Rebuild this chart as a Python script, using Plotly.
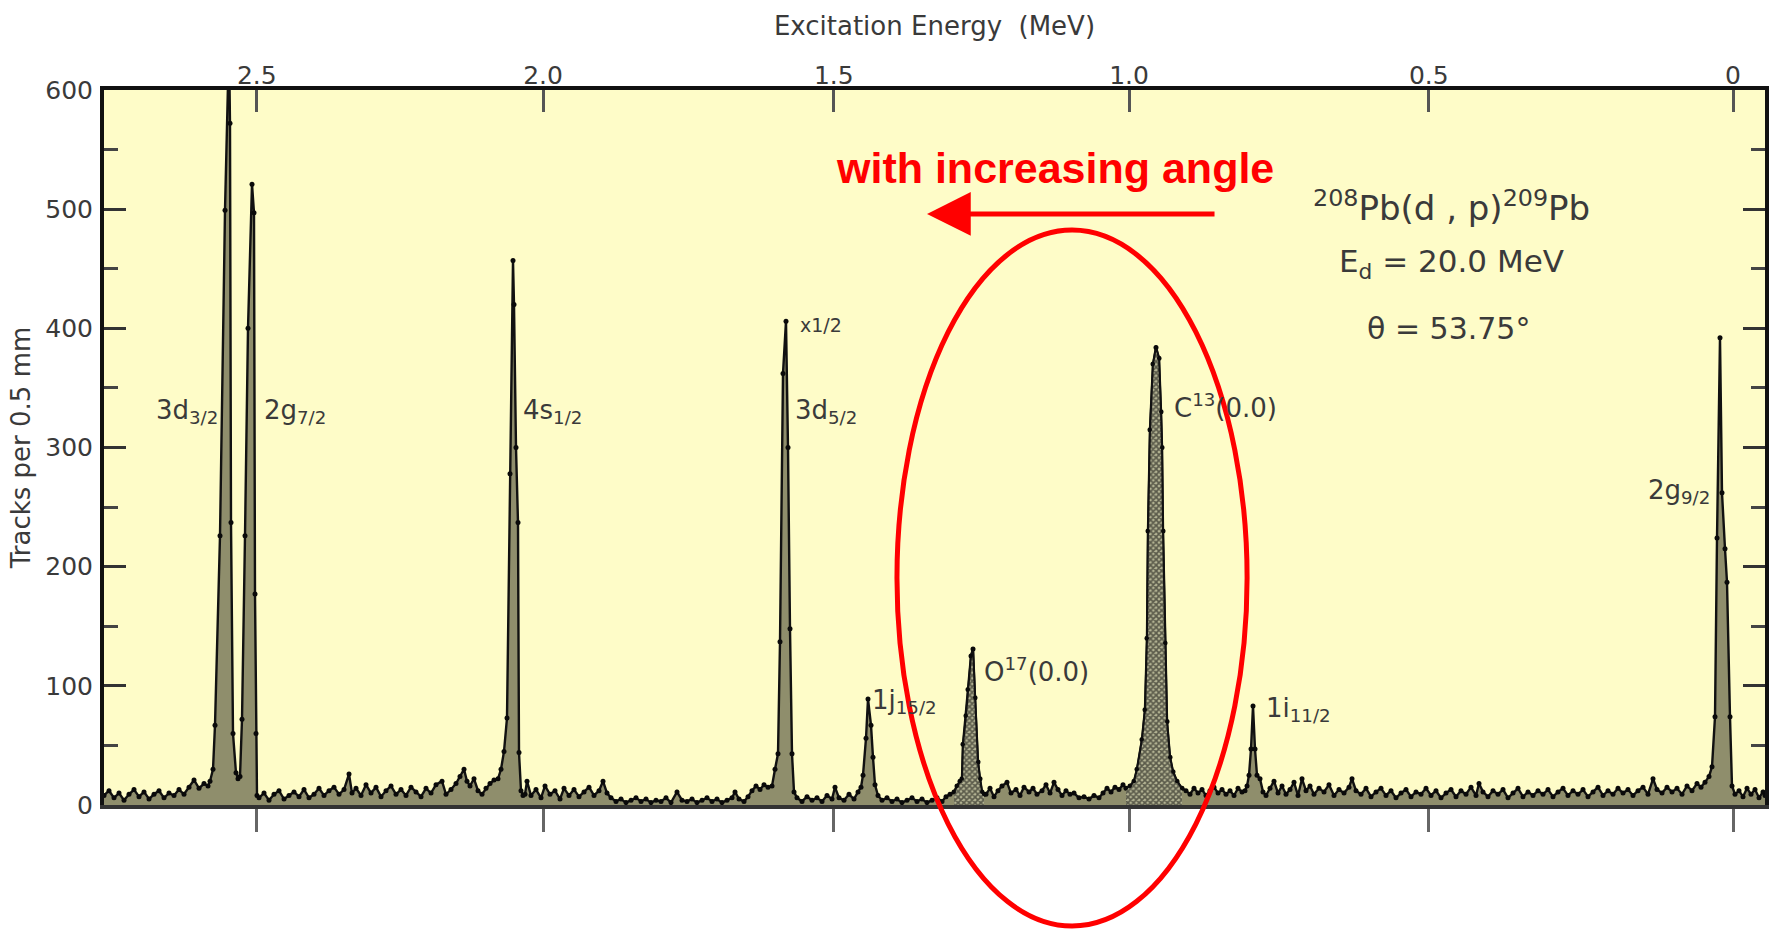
import plotly.graph_objects as go

# ---------------- data (channel along the plate, tracks per 0.5 mm) ----------------
base_1 = [(0, 8), (5, 12), (10, 6), (15, 10), (20, 4), (25, 9), (30, 13), (35, 7), (40, 11), (45, 5),
          (50, 9), (55, 12), (60, 6), (65, 10), (70, 8), (75, 13), (80, 9), (85, 15), (90, 21), (95, 14),
          (100, 18), (104, 16)]
peaks_3d32_2g72 = [(106, 20), (109, 30), (111, 67), (116, 226), (121, 499), (125, 640), (126, 572),
                   (127, 237), (129, 60), (132, 27), (134, 22), (136, 24), (138, 72), (141, 226),
                   (144, 400), (148, 521), (150, 497), (151, 177), (152, 60), (153, 8)]
base_2 = [(155, 6), (160, 10), (165, 4), (170, 9), (175, 12), (180, 5), (185, 8), (190, 11), (195, 7),
          (200, 13), (205, 6), (210, 9), (215, 14), (220, 8), (225, 12), (230, 15), (235, 9), (240, 13),
          (245, 26), (248, 10), (252, 14), (257, 8), (262, 17), (267, 10), (272, 15), (277, 7), (282, 12),
          (287, 16), (292, 9), (297, 13), (302, 8), (307, 15), (312, 11), (317, 7), (322, 14), (327, 10),
          (332, 17), (338, 20), (342, 9), (347, 13), (352, 18), (356, 24), (360, 30), (363, 20), (366, 16),
          (370, 22), (374, 12), (378, 9), (382, 14), (386, 18), (390, 21)]
peak_4s12 = [(394, 22), (397, 30), (400, 45), (403, 73), (406, 278), (409, 457), (410, 420), (412, 300),
             (414, 237), (415, 44), (417, 12), (419, 8)]
base_3 = [(421, 9), (423, 20), (427, 8), (432, 13), (437, 6), (441, 16), (446, 9), (451, 12), (456, 5),
          (460, 14), (465, 8), (470, 13), (475, 7), (480, 11), (485, 15), (490, 8), (495, 12), (499, 20),
          (503, 10), (507, 6), (512, 3), (517, 5), (522, 2), (527, 4), (532, 6), (537, 3), (542, 5),
          (547, 2), (552, 4), (557, 3), (562, 6), (567, 2), (573, 11), (578, 4), (583, 3), (588, 5),
          (593, 2), (598, 4), (603, 6), (608, 3), (613, 5), (618, 2), (623, 4), (628, 6), (631, 11),
          (635, 5), (640, 3), (644, 7), (648, 12), (652, 16), (656, 13), (660, 17), (664, 15)]
peak_3d52 = [(668, 16), (671, 30), (674, 43), (676, 137), (679, 362), (682, 406), (684, 300), (686, 148),
             (688, 43), (690, 11)]
base_4 = [(693, 6), (698, 3), (703, 7), (708, 4), (713, 6), (718, 3), (723, 8), (728, 5), (731, 15),
          (735, 6), (740, 4), (745, 9), (750, 5), (754, 11)]
peak_1j152 = [(757, 15), (759, 25), (762, 56), (764, 89), (767, 67), (769, 40), (771, 17), (774, 8)]
base_5 = [(778, 4), (783, 6), (788, 3), (793, 5), (798, 2), (803, 4), (808, 6), (813, 3), (818, 5),
          (823, 2), (828, 4), (833, 6), (838, 3), (842, 7), (846, 9)]
peak_o17 = [(850, 11), (853, 16), (856, 20), (858, 22), (859, 51), (862, 75), (864, 97), (867, 125),
            (869, 131), (871, 90), (874, 36), (876, 22), (878, 11), (880, 9)]
base_6 = [(882, 9), (886, 14), (890, 7), (894, 12), (898, 16), (903, 19), (907, 10), (912, 13), (916, 8),
          (920, 15), (925, 11), (929, 14), (933, 9), (938, 12), (942, 17), (946, 10), (950, 19), (954, 13),
          (958, 8), (962, 12), (966, 9), (970, 10), (975, 6), (980, 7), (985, 5), (990, 8), (995, 6),
          (999, 10), (1003, 14), (1007, 11), (1011, 15), (1015, 13), (1019, 17)]
peak_c13 = [(1022, 14), (1026, 16), (1030, 20), (1033, 30), (1038, 55), (1041, 80), (1043, 140),
            (1044, 230), (1046, 315), (1049, 370), (1052, 384), (1055, 375), (1057, 330), (1058, 300),
            (1059, 230), (1061, 136), (1063, 70), (1066, 40), (1069, 28), (1073, 20), (1078, 14)]
base_7 = [(1082, 12), (1086, 9), (1090, 14), (1094, 10), (1098, 13), (1102, 8), (1106, 12), (1110, 15),
          (1114, 10), (1118, 13), (1122, 9), (1126, 12), (1130, 8), (1134, 14), (1138, 11)]
peak_1i112 = [(1141, 12), (1143, 16), (1145, 25), (1147, 47), (1149, 83), (1151, 47), (1153, 25),
              (1156, 22), (1159, 11)]
base_8 = [(1162, 8), (1166, 14), (1170, 20), (1174, 10), (1178, 16), (1182, 9), (1186, 13), (1190, 19),
          (1194, 8), (1198, 22), (1202, 12), (1206, 16), (1210, 9), (1215, 14), (1220, 11), (1225, 17),
          (1230, 8), (1235, 13), (1240, 10), (1245, 15), (1248, 22), (1252, 12), (1257, 9), (1262, 14),
          (1267, 7), (1272, 11), (1277, 14), (1282, 8), (1287, 12), (1292, 6), (1297, 10), (1302, 13),
          (1307, 7), (1312, 11), (1317, 9), (1322, 14), (1327, 8), (1332, 12), (1337, 6), (1342, 10),
          (1347, 13), (1352, 7), (1357, 12), (1362, 9), (1367, 15), (1372, 8), (1375, 18), (1379, 11),
          (1384, 7), (1389, 12), (1394, 9), (1399, 13), (1404, 6), (1409, 10), (1414, 14), (1419, 7),
          (1424, 11), (1429, 8), (1434, 12), (1439, 9), (1444, 13), (1449, 7), (1454, 11), (1459, 14),
          (1464, 8), (1469, 12), (1474, 9), (1479, 13), (1484, 7), (1489, 11), (1494, 15), (1499, 8),
          (1504, 12), (1509, 9), (1514, 14), (1519, 10), (1524, 13), (1529, 8), (1534, 12), (1539, 15),
          (1544, 9), (1549, 22), (1553, 13), (1558, 10), (1563, 15), (1568, 11), (1573, 14), (1578, 9),
          (1583, 16), (1588, 12), (1593, 18), (1597, 15)]
peak_2g92 = [(1601, 19), (1605, 24), (1608, 32), (1611, 74), (1613, 224), (1616, 392), (1618, 262),
             (1621, 215), (1623, 187), (1626, 74), (1628, 16), (1631, 9)]
base_9 = [(1635, 12), (1639, 7), (1643, 14), (1647, 9), (1651, 13), (1655, 6), (1659, 11), (1661, 8)]

tick_energies = [2.5, 2.0, 1.5, 1.0, 0.5, 0.0]
tick_labels = ["2.5", "2.0", "1.5", "1.0", "0.5", "0"]
y_ticks = [0, 100, 200, 300, 400, 500, 600]

# peak labels: (text, channel, counts, anchor)
peak_labels = [
    ("3d<sub>3/2</sub>", 116, 330, "right"),
    ("2g<sub>7/2</sub>", 158, 330, "left"),
    ("4s<sub>1/2</sub>", 417, 330, "left"),
    ("3d<sub>5/2</sub>", 689, 330, "left"),
    ("1j<sub>15/2</sub>", 766, 87, "left"),
    ("O<sup>17</sup>(0.0)", 878, 113, "left"),
    ("C<sup>13</sup>(0.0)", 1068, 335, "left"),
    ("1i<sub>11/2</sub>", 1160, 80, "left"),
    ("2g<sub>9/2</sub>", 1608, 263, "right"),
]


def channel_of_energy(e):
    # plate-position calibration of the spectrograph (slightly non-linear)
    return 1629 - 613 * e + 9 * e ** 2


segments = [base_1, peaks_3d32_2g72, base_2, peak_4s12, base_3, peak_3d52, base_4, peak_1j152,
            base_5, peak_o17, base_6, peak_c13, base_7, peak_1i112, base_8, peak_2g92, base_9]
pairs = [p for s in segments for p in s]
ch = [p[0] for p in pairs]
cnt = [p[1] for p in pairs]

TXT = "#3a3a3a"
FONT = "DejaVu Sans"

fig = go.Figure()
fig.add_trace(go.Scatter(
    x=ch, y=cnt, mode="lines+markers",
    line=dict(color="#111111", width=2.4),
    marker=dict(size=5, color="#0a0a0a"),
    fill="tozeroy", fillcolor="rgba(90,90,65,0.68)",
    hoverinfo="skip"))

# contaminant peaks (hatched) drawn on the overlaying bottom axis (same range)
for seg in (peak_o17, peak_c13):
    fig.add_trace(go.Scatter(
        x=[p[0] for p in seg], y=[p[1] for p in seg], mode="lines+markers",
        xaxis="x2", yaxis="y",
        line=dict(color="#111111", width=2.0),
        marker=dict(size=4, color="#0a0a0a"),
        fill="tozeroy", fillcolor="rgba(0,0,0,0)",
        fillpattern=dict(shape="x", fgcolor="#000000", bgcolor="#b4b494", size=4, solidity=0.65),
        hoverinfo="skip"))

tickvals = [channel_of_energy(e) for e in tick_energies]

annotations = []
for text, c, n, anchor in peak_labels:
    annotations.append(dict(x=c, y=n, xref="x", yref="y", text=text, showarrow=False,
                            xanchor=anchor, yanchor="middle",
                            font=dict(family=FONT, size=26, color=TXT)))
annotations.append(dict(x=694, y=403, xref="x", yref="y", text="x1/2", showarrow=False,
                        xanchor="left", yanchor="middle", font=dict(family=FONT, size=19, color=TXT)))
annotations += [
    dict(x=1207, y=503, xref="x", yref="y", text="<sup>208</sup>Pb(d , p)<sup>209</sup>Pb",
         showarrow=False, xanchor="left", yanchor="middle", font=dict(family=FONT, size=34, color=TXT)),
    dict(x=1233, y=454, xref="x", yref="y", text="E<sub>d</sub> = 20.0 MeV",
         showarrow=False, xanchor="left", yanchor="middle", font=dict(family=FONT, size=31, color=TXT)),
    dict(x=1261, y=400, xref="x", yref="y", text="θ = 53.75°",
         showarrow=False, xanchor="left", yanchor="middle", font=dict(family=FONT, size=30, color=TXT)),
    dict(x=0.5726, y=0.8906, xref="paper", yref="paper", text="<b>with increasing angle</b>",
         showarrow=False, xanchor="center", yanchor="middle",
         font=dict(family="Liberation Sans, Arial", size=43, color="#ff0000")),
    dict(x=0.4955, y=0.8266, xref="paper", yref="paper", text="", showarrow=True,
         ax=289, ay=0, axref="pixel", ayref="pixel", arrowhead=2, arrowsize=1.75, arrowwidth=5,
         arrowcolor="#ff0000", standoff=0, startstandoff=0),
]

shapes = [dict(type="circle", xref="paper", yref="paper", x0=0.4774, x1=0.6882, y0=-0.1692, y1=0.8042,
               line=dict(color="#ff0000", width=5), layer="above")]

fig.update_layout(
    width=1777, height=930,
    margin=dict(l=104, r=12, t=90, b=125, pad=0, autoexpand=False),
    plot_bgcolor="#fefcc8", paper_bgcolor="white",
    showlegend=False,
    xaxis=dict(side="top", range=[0, 1661], tickmode="array", tickvals=tickvals, ticktext=tick_labels,
               ticks="inside", ticklen=22, tickwidth=2.5, tickcolor="#555555", automargin=False,
               showline=True, linecolor="#111111", linewidth=4, showgrid=False, zeroline=False,
               tickfont=dict(family=FONT, size=25, color=TXT), ticklabelstandoff=-8,
               title=dict(text="Excitation Energy&nbsp; (MeV)", font=dict(family=FONT, size=26, color=TXT),
                          standoff=19)),
    xaxis2=dict(overlaying="x", side="bottom", range=[0, 1661], tickmode="array", tickvals=tickvals,
                ticks="outside", ticklen=23, tickwidth=3, tickcolor="#666666", showticklabels=False,
                automargin=False, showline=True, linecolor="#333333", linewidth=4, showgrid=False,
                zeroline=False),
    yaxis=dict(range=[0, 600], tickmode="array", tickvals=y_ticks, ticks="inside", ticklen=22,
               tickwidth=3, tickcolor="#333333", automargin=False,
               minor=dict(tickmode="linear", tick0=0, dtick=50, ticks="inside", ticklen=14, tickwidth=3,
                          tickcolor="#444444", showgrid=False),
               showline=True, mirror="ticks", linecolor="#111111", linewidth=4, showgrid=False,
               zeroline=False, tickfont=dict(family=FONT, size=25, color=TXT), ticklabelstandoff=2,
               title=dict(text="Tracks per 0.5 mm", font=dict(family=FONT, size=26, color=TXT), standoff=8)),
    annotations=annotations,
    shapes=shapes,
)

fig.write_html("out.html", config={"displayModeBar": False},
               post_script="document.body.style.margin='0px';")
